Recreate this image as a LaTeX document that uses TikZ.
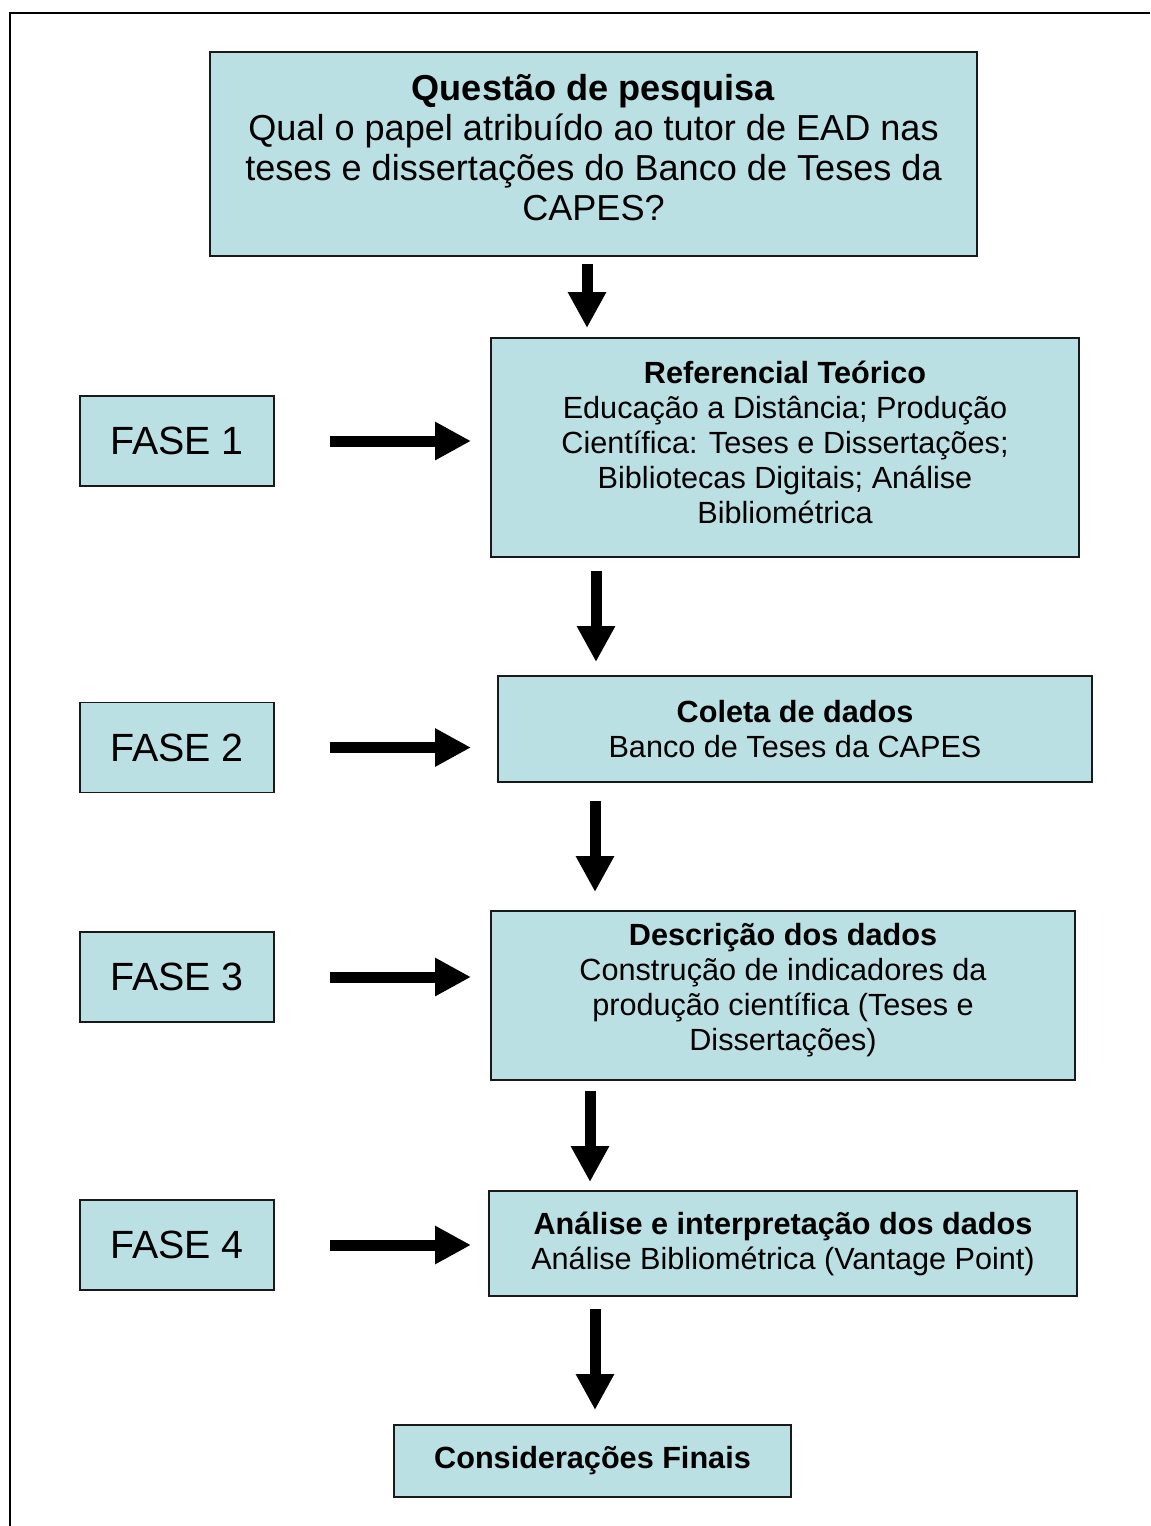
\documentclass[tikz,border=0pt]{standalone}
\usepackage{fontspec}
\setmainfont{Liberation Sans}
\usetikzlibrary{arrows.meta,calc}
\definecolor{boxfill}{RGB}{187,224,227}
\def\u{0.457pt}
\begin{document}
\begin{tikzpicture}[x=0.457pt,y=-0.457pt,
  box/.style={draw=black!90,line width=0.9pt,fill=boxfill,inner sep=0pt,align=center,text=black},
  big/.style={font=\fontsize{16.5}{18.3}\selectfont},
  mid/.style={font=\fontsize{14}{16}\selectfont},
  fase/.style={box,font=\fontsize{18}{21}\selectfont,minimum width=194*\u,minimum height=90*\u},
  bigarrow/.style={line width=11*\u,-{Triangle[width=36*\u,length=36*\u]}}]
\useasboundingbox (0,0) rectangle (1150,1526);
\draw[line width=1.3pt] (1150,13) -- (10,13) -- (10,1526);

\node[box,big,minimum width=767*\u,minimum height=204*\u] (q) at (593.5,154)
  {\textbf{Questão de pesquisa}\\Qual o papel atribuído ao tutor de EAD nas\\teses e dissertações do Banco de Teses da\\CAPES?\\[-12pt]};
\node[box,mid,minimum width=588*\u,minimum height=219*\u] (r) at (785,447.5)
  {\textbf{Referencial Teórico}\\Educação a Distância; Produção\\Científica: Teses e Dissertações;\\Bibliotecas Digitais; Análise\\Bibliométrica\\[-11.4pt]};
\node[box,mid,minimum width=594*\u,minimum height=106*\u] (c) at (795,729)
  {\textbf{Coleta de dados}\\Banco de Teses da CAPES};
\node[box,mid,minimum width=584*\u,minimum height=169*\u] (d) at (783,995.5)
  {\textbf{Descrição dos dados}\\Construção de indicadores da\\produção científica (Teses e\\Dissertações)\\[-8.2pt]};
\node[box,mid,minimum width=588*\u,minimum height=105*\u] (a) at (783,1243.5)
  {\textbf{Análise e interpretação dos dados}\\Análise Bibliométrica (Vantage Point)};
\node[box,mid,minimum width=397*\u,minimum height=72*\u] (f) at (592.5,1461)
  {\textbf{Considerações Finais}};

\node[fase] (f1) at (177,441) {FASE 1};
\node[fase] (f2) at (177,747.5) {FASE 2};
\node[fase] (f3) at (177,977) {FASE 3};
\node[fase] (f4) at (177,1245) {FASE 4};

\draw[bigarrow,shorten <=7*\u,shorten >=9*\u] ($(q.south)+(-6.5,0)$) coordinate (t1) -- (t1 |- r.north);
\draw[bigarrow,shorten <=13*\u,shorten >=13*\u] ($(r.south)+(-189,0)$) coordinate (t2) -- (t2 |- c.north);
\draw[bigarrow,shorten <=18*\u,shorten >=18*\u] ($(c.south)+(-200,0)$) coordinate (t3) -- (t3 |- d.north);
\draw[bigarrow,shorten <=10*\u,shorten >=8*\u] ($(d.south)+(-193,0)$) coordinate (t4) -- (t4 |- a.north);
\draw[bigarrow,shorten <=12*\u,shorten >=14*\u] ($(a.south)+(-188,0)$) coordinate (t5) -- (t5 |- f.north);

\draw[bigarrow,shorten <=55*\u,shorten >=19*\u] (f1.east) -- (f1.east -| r.west);
\draw[bigarrow,shorten <=55*\u,shorten >=26*\u] (f2.east) -- (f2.east -| c.west);
\draw[bigarrow,shorten <=55*\u,shorten >=19*\u] (f3.east) -- (f3.east -| d.west);
\draw[bigarrow,shorten <=55*\u,shorten >=17*\u] (f4.east) -- (f4.east -| a.west);
\end{tikzpicture}
\end{document}
